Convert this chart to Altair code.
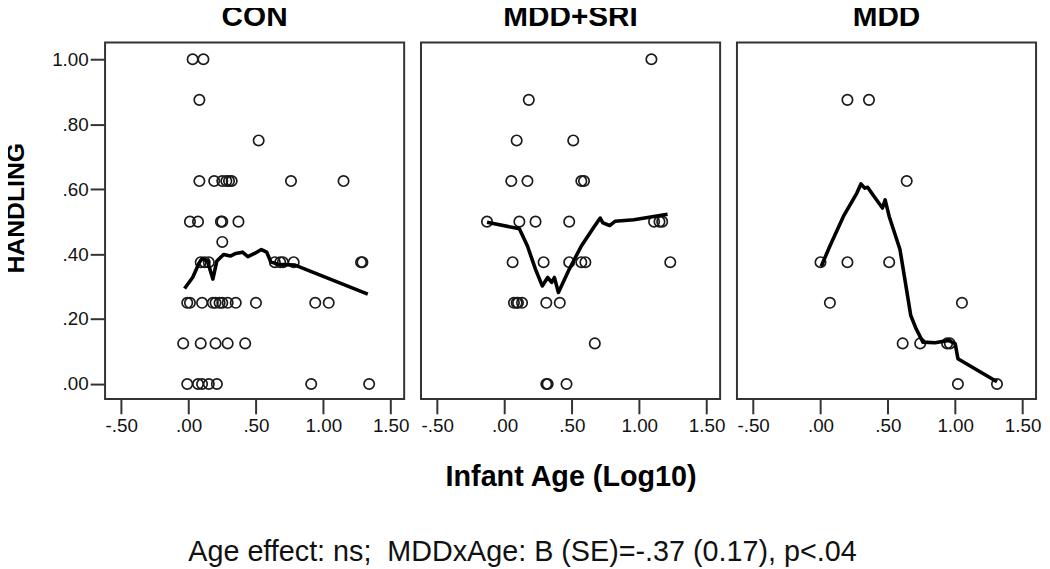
import altair as alt
import pandas as pd

FONT = "Liberation Sans"

# ---- CON ----
con_x = [0.03, 0.11, 0.08, 0.52,
         0.08, 0.19, 0.25, 0.28, 0.30, 0.32, 0.76, 1.15,
         0.01, 0.07, 0.24, 0.25, 0.37,
         0.25,
         0.09, 0.12, 0.15, 0.64, 0.68, 0.70, 0.78, 1.28, 1.29,
         -0.01, 0.01, 0.10, 0.18, 0.20, 0.23, 0.25, 0.29, 0.35, 0.50, 0.94, 1.04,
         -0.04, 0.09, 0.20, 0.29, 0.42,
         -0.01, 0.07, 0.10, 0.15, 0.21, 0.91, 1.34]
con_y = [1.0, 1.0, 0.875, 0.75,
         0.625, 0.625, 0.625, 0.625, 0.625, 0.625, 0.625, 0.625,
         0.5, 0.5, 0.5, 0.5, 0.5,
         0.4375,
         0.375, 0.375, 0.375, 0.375, 0.375, 0.375, 0.375, 0.375, 0.375,
         0.25, 0.25, 0.25, 0.25, 0.25, 0.25, 0.25, 0.25, 0.25, 0.25, 0.25, 0.25,
         0.125, 0.125, 0.125, 0.125, 0.125,
         0.0, 0.0, 0.0, 0.0, 0.0, 0.0, 0.0]
con_fit_x = [-0.03, 0.03, 0.08, 0.10, 0.14, 0.18, 0.21, 0.26, 0.31, 0.35, 0.40,
             0.44, 0.49, 0.54, 0.58, 0.61, 0.66, 0.79, 1.33]
con_fit_y = [0.294, 0.328, 0.374, 0.386, 0.379, 0.323, 0.379, 0.399, 0.394, 0.402,
             0.406, 0.392, 0.402, 0.414, 0.406, 0.376, 0.369, 0.366, 0.277]

# ---- MDD+SRI ----
sri_x = [1.09, 0.18, 0.09, 0.51,
         0.05, 0.17, 0.57, 0.59,
         -0.13, 0.11, 0.23, 0.48, 1.11, 1.15, 1.17,
         0.06, 0.29, 0.48, 0.57, 0.60, 1.23,
         0.07, 0.09, 0.10, 0.13, 0.31, 0.41,
         0.67,
         0.31, 0.32, 0.46]
sri_y = [1.0, 0.875, 0.75, 0.75,
         0.625, 0.625, 0.625, 0.625,
         0.5, 0.5, 0.5, 0.5, 0.5, 0.5, 0.5,
         0.375, 0.375, 0.375, 0.375, 0.375, 0.375,
         0.25, 0.25, 0.25, 0.25, 0.25, 0.25,
         0.125,
         0.0, 0.0, 0.0]
sri_fit_x = [-0.13, 0.11, 0.17, 0.23, 0.28, 0.32, 0.35, 0.37, 0.40, 0.48, 0.57,
             0.66, 0.71, 0.73, 0.78, 0.82, 0.96, 1.21]
sri_fit_y = [0.498, 0.478, 0.425, 0.353, 0.302, 0.328, 0.313, 0.328, 0.282, 0.353,
             0.425, 0.481, 0.511, 0.496, 0.488, 0.501, 0.506, 0.523]

# ---- MDD ----
mdd_x = [0.20, 0.36, 0.64, 0.00, 0.20, 0.51, 0.07, 1.05,
         0.61, 0.74, 0.94, 0.96, 1.02, 1.31]
mdd_y = [0.875, 0.875, 0.625, 0.375, 0.375, 0.375, 0.25, 0.25,
         0.125, 0.125, 0.125, 0.125, 0.0, 0.0]
mdd_fit_x = [0.005, 0.07, 0.17, 0.27, 0.30, 0.33, 0.35, 0.39, 0.46, 0.48, 0.51,
             0.59, 0.63, 0.67, 0.71, 0.76, 0.85, 0.95, 1.00, 1.02, 1.31]
mdd_fit_y = [0.362, 0.425, 0.516, 0.588, 0.616, 0.603, 0.606, 0.582, 0.542, 0.567,
             0.516, 0.414, 0.313, 0.211, 0.170, 0.129, 0.127, 0.134, 0.124, 0.078, 0.007]

x_ticks = [-0.5, 0.0, 0.5, 1.0, 1.5]
y_ticks = [0.0, 0.2, 0.4, 0.6, 0.8, 1.0]

LBL = ("abs(datum.value) < 1 ? ((datum.value < 0 ? '-' : '') + "
       "substring(format(abs(datum.value), '.2f'), 1)) : format(datum.value, '.2f')")

W, H = 302, 360


def panel(name, px, py, fx, fy, show_y, show_xtitle):
    pts = pd.DataFrame({"age": px, "handling": py})
    fit = pd.DataFrame({"age": fx, "handling": fy, "idx": list(range(len(fx)))})
    xaxis_kw = dict(values=x_ticks, labelExpr=LBL, grid=False, domain=False,
                    tickSize=15, tickWidth=2, tickColor="#333333",
                    labelFont=FONT, labelFontSize=19, labelColor="#111111",
                    labelPadding=3)
    if show_xtitle:
        xaxis_kw.update(title="Infant Age (Log10)", titleFont=FONT, titleFontSize=29,
                        titleFontWeight="bold", titleColor="#000000", titlePadding=27)
    else:
        xaxis_kw.update(title=None)
    x = alt.X("age:Q", scale=alt.Scale(domain=[-0.62, 1.60], nice=False, zero=False),
              axis=alt.Axis(**xaxis_kw))
    if show_y:
        y = alt.Y("handling:Q", scale=alt.Scale(domain=[-0.046, 1.052], nice=False, zero=False),
                  axis=alt.Axis(values=y_ticks, labelExpr=LBL, grid=False, domain=False,
                                tickSize=15, tickWidth=2, tickColor="#333333",
                                labelFont=FONT, labelFontSize=19, labelColor="#111111",
                                labelPadding=2, title="HANDLING", titleFont=FONT,
                                titleFontSize=25, titleFontWeight="bold",
                                titleColor="#000000", titlePadding=23,
                                titleY=H / 2 - 13))
    else:
        y = alt.Y("handling:Q", scale=alt.Scale(domain=[-0.046, 1.052], nice=False, zero=False),
                  axis=None)
    p = alt.Chart(pts).mark_point(shape="circle", filled=False, size=110,
                                  strokeWidth=1.7, color="#1a1a1a", opacity=1).encode(x=x, y=y)
    l = alt.Chart(fit).mark_line(color="#000000", strokeWidth=3.6,
                                 strokeJoin="round").encode(x=x, y=y, order="idx:Q")
    return alt.layer(p, l).properties(
        width=W, height=H,
        title=alt.Title(name, font=FONT, fontSize=30, fontWeight="bold",
                        color="#000000", offset=11))


c1 = panel("CON", con_x, con_y, con_fit_x, con_fit_y, True, False)
c2 = panel("MDD+SRI", sri_x, sri_y, sri_fit_x, sri_fit_y, False, True)
c3 = panel("MDD", mdd_x, mdd_y, mdd_fit_x, mdd_fit_y, False, False)

chart = alt.hconcat(c1, c2, c3, spacing=17, bounds="flush").properties(
    title=alt.Title("Age effect: ns;\u00a0 MDDxAge: B (SE)=-.37 (0.17), p<.04",
                    orient="bottom", anchor="middle", font=FONT, fontSize=29,
                    fontWeight="normal", color="#111111", offset=47),
    padding={"left": -5, "top": -10, "right": 0, "bottom": 0},
    background="white",
).configure_view(stroke="#333333", strokeWidth=2)

chart.save("out.html", embed_options={"renderer": "svg", "actions": False})
